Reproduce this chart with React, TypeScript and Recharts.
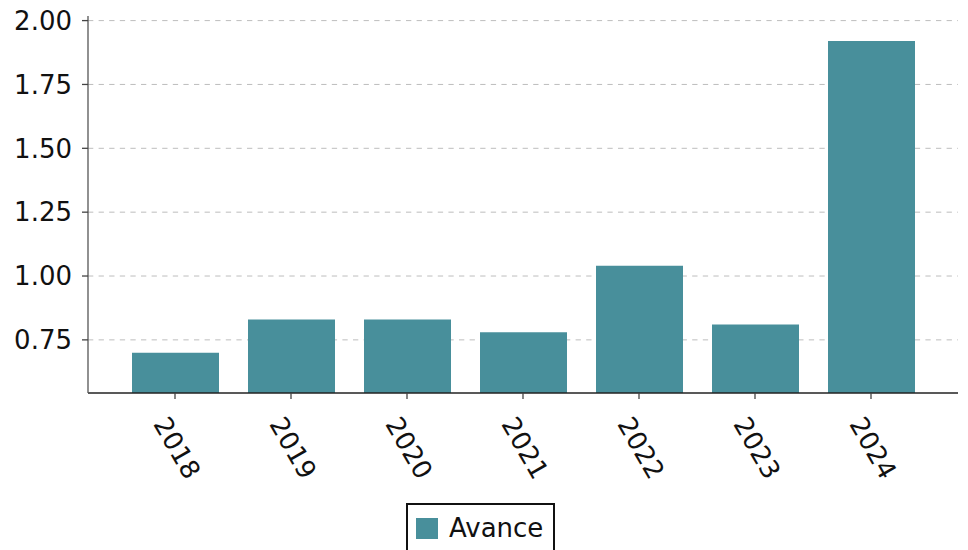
import React from 'react';
import { BarChart, Bar, XAxis, YAxis, CartesianGrid } from 'recharts';

const years = ['2018', '2019', '2020', '2021', '2022', '2023', '2024'];
const avance = [0.70, 0.83, 0.83, 0.78, 1.04, 0.81, 1.92];
const yTicks = [0.75, 1.0, 1.25, 1.5, 1.75, 2.0];
const seriesName = 'Avance';

const data = years.map((y, i) => ({ year: y, value: avance[i] }));

const FONT = '"DejaVu Sans", sans-serif';
const COLOR = '#488f9b';

const XTick = (props: any) => {
  const { x, y, payload } = props;
  return (
    <text
      transform={`translate(${x + 2}, ${y + 47}) rotate(60)`}
      textAnchor="middle"
      dominantBaseline="central"
      fontFamily={FONT}
      fontSize={26}
      fill="#111"
    >
      {payload.value}
    </text>
  );
};

export default function App() {
  return (
    <div style={{ position: 'absolute', left: 0, top: 0, width: 968, height: 550, background: '#fff' }}>
      <BarChart
        width={968}
        height={550}
        data={data}
        margin={{ top: 16, right: 10, left: 0, bottom: 0 }}
        barSize={87}
      >
        <CartesianGrid
          vertical={false}
          horizontal
          stroke="#bdbdbd"
          strokeDasharray="5.3 5.3"
          horizontalValues={yTicks}
        />
        <XAxis
          dataKey="year"
          padding={{ left: 29, right: 29 }}
          tickLine={{ stroke: '#444', strokeWidth: 1.3 }}
          axisLine={{ stroke: '#222', strokeWidth: 1.3 }}
          tickSize={6}
          tick={<XTick />}
          interval={0}
          height={157}
        />
        <YAxis
          type="number"
          domain={[0.542, 2.018]}
          ticks={yTicks}
          allowDataOverflow
          width={88}
          tickFormatter={(v: number) => v.toFixed(2)}
          tick={{ fontFamily: FONT, fontSize: 26, fill: '#111' }}
          tickLine={{ stroke: '#444', strokeWidth: 1.3 }}
          axisLine={{ stroke: '#555', strokeWidth: 1.3 }}
          tickSize={6}
          tickMargin={10}
        />
        <Bar dataKey="value" name={seriesName} fill={COLOR} isAnimationActive={false} />
      </BarChart>
      <div
        style={{
          position: 'absolute',
          left: 406,
          top: 503,
          width: 149,
          height: 60,
          border: '2px solid #111',
          boxSizing: 'border-box',
          background: '#fff',
          fontFamily: FONT,
          fontSize: 26,
          color: '#111',
        }}
      >
        <div style={{ position: 'absolute', left: 8, top: 13, width: 22, height: 21, background: COLOR }} />
        <div style={{ position: 'absolute', left: 41, top: 8, lineHeight: '30px', whiteSpace: 'nowrap' }}>{seriesName}</div>
      </div>
    </div>
  );
}
